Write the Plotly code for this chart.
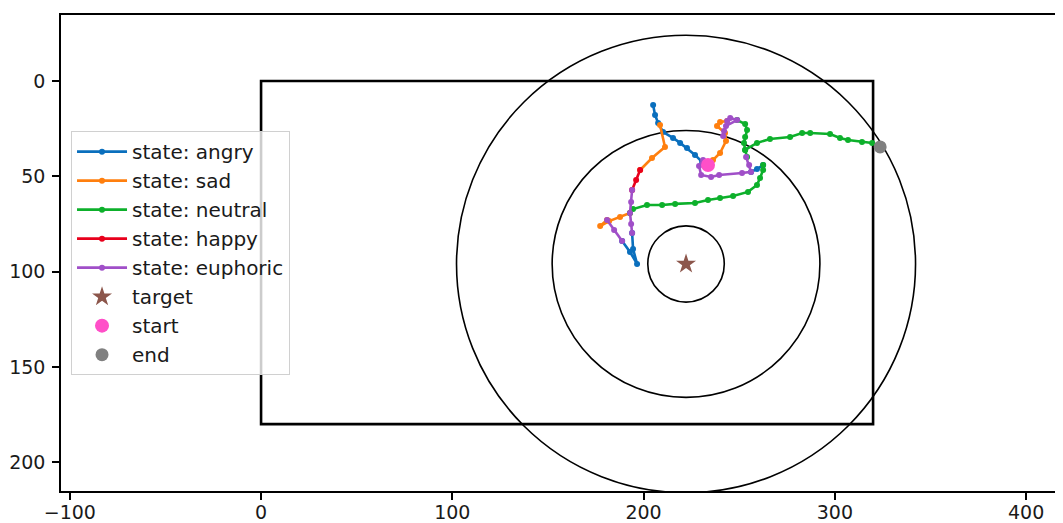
import plotly.graph_objects as go

# ---------------- data ----------------
# trajectory pieces per state (x lists, y lists)
angry_x = [[233.7, 230.6, 226.9, 222.7, 219.1, 215.4, 210.2, 207.6, 206.0, 205.0],
           [194.0, 194.5, 196.6, 192.9, 188.8],
           [262.5, 259.3, 256.2]]
angry_y = [[44.1, 42.5, 38.8, 35.2, 32.5, 29.9, 26.8, 22.0, 17.8, 12.6],
           [79.7, 88.1, 96.0, 89.7, 83.9],
           [44.1, 46.2, 47.7]]

sad_x = [[208.6, 211.2, 204.4, 198.2],
         [180.9, 177.3, 182.0, 187.7, 192.9],
         [233.7, 236.3, 240.0, 243.1, 242.6, 238.4, 240.0, 243.7]]
sad_y = [[23.1, 34.6, 40.4, 46.7],
         [72.9, 76.1, 73.5, 71.4, 69.3],
         [44.1, 41.4, 37.8, 31.5, 27.3, 23.6, 21.5, 21.0]]

neutral_x = [[192.9, 194.5, 201.8, 209.7, 216.5, 226.9, 233.7, 240.0, 246.8, 254.6, 259.3, 260.9, 262.5, 262.5],
             [248.9, 253.1, 254.1, 253.1, 252.5, 253.1, 254.1],
             [253.1, 259.3, 266.1, 276.6, 282.9, 287.1, 297.5, 302.7, 306.9, 314.2, 319.5, 323.7]]
neutral_y = [[69.3, 67.2, 65.1, 65.1, 64.5, 64.0, 62.4, 61.4, 60.3, 58.2, 54.6, 50.9, 46.7, 44.1],
             [20.5, 22.6, 25.7, 29.4, 32.5, 36.2, 39.9],
             [36.2, 32.5, 30.4, 29.4, 27.3, 27.3, 27.8, 29.9, 31.0, 32.0, 32.5, 34.6]]

happy_x = [[198.2, 196.1, 194.0]]
happy_y = [[46.7, 51.9, 57.2]]

euphoric_x = [[194.0, 193.5, 192.9, 193.5, 194.0],
              [188.8, 184.6, 180.9],
              [253.6, 255.2, 256.2, 251.5, 239.5, 235.3, 230.1, 229.0, 231.1],
              [243.7, 245.3, 248.9, 243.1, 242.1, 241.6]]
euphoric_y = [[57.2, 63.5, 69.3, 75.0, 79.7],
              [83.9, 78.2, 72.9],
              [39.9, 44.1, 47.7, 48.3, 49.3, 50.4, 49.3, 44.6, 41.4],
              [21.0, 19.4, 20.5, 23.6, 26.2, 28.9]]

target_xy = (222.2, 96.0)
start_xy = (233.7, 44.1)
end_xy = (323.7, 34.6)
ring_radii = [20, 70, 120]
room = (0, 320, 0, 180)   # x0, x1, y0, y1

x_ticks = [-100, 0, 100, 200, 300, 400]
y_ticks = [0, 50, 100, 150, 200]

states = [
    ("state: angry", angry_x, angry_y, "#0a6fbd"),
    ("state: sad", sad_x, sad_y, "#ff7f0e"),
    ("state: neutral", neutral_x, neutral_y, "#0db02b"),
    ("state: happy", happy_x, happy_y, "#e8001c"),
    ("state: euphoric", euphoric_x, euphoric_y, "#a04fc8"),
]

FONT = "DejaVu Sans"

fig = go.Figure()

for name, xs, ys, col in states:
    X, Y = [], []
    for sx, sy in zip(xs, ys):
        if X:
            X.append(None); Y.append(None)
        X += sx; Y += sy
    fig.add_trace(go.Scatter(x=X, y=Y, mode="lines+markers", name=name,
                             line=dict(color=col, width=2.6),
                             marker=dict(color=col, size=6),
                             connectgaps=False))

fig.add_trace(go.Scatter(x=[target_xy[0]], y=[target_xy[1]], mode="markers", name="target",
                         marker=dict(symbol="star", color="#8c564b", size=15, line=dict(width=0))))
fig.add_trace(go.Scatter(x=[start_xy[0]], y=[start_xy[1]], mode="markers", name="start",
                         marker=dict(symbol="circle", color="#ff4fc8", size=14, line=dict(width=0))))
fig.add_trace(go.Scatter(x=[end_xy[0]], y=[end_xy[1]], mode="markers", name="end",
                         marker=dict(symbol="circle", color="#808080", size=13, line=dict(width=0))))

shapes = [dict(type="rect", xref="x", yref="y", x0=room[0], x1=room[1], y0=room[2], y1=room[3],
               line=dict(color="black", width=2.6), layer="below")]
for r in ring_radii:
    shapes.append(dict(type="circle", xref="x", yref="y",
                       x0=target_xy[0] - r, x1=target_xy[0] + r,
                       y0=target_xy[1] - r, y1=target_xy[1] + r,
                       line=dict(color="black", width=1.6), layer="below"))

axis_common = dict(showgrid=False, zeroline=False, showline=True, linecolor="black", linewidth=1.5,
                   mirror=True, ticks="outside", ticklen=7, tickwidth=1.5, tickcolor="black",
                   tickfont=dict(family=FONT, size=19, color="#1a1a1a"), automargin=False)

# page body has an 8px margin: figure is 1055x515 so it fills the 1063x523 window
fig.update_layout(
    width=1055, height=515,
    margin=dict(l=53, r=0, t=7, b=32),
    paper_bgcolor="white", plot_bgcolor="white",
    shapes=shapes,
    showlegend=True,
    legend=dict(x=0.01, y=0.756, xanchor="left", yanchor="top",
                bgcolor="rgba(255,255,255,0.8)", bordercolor="#d0d0d0", borderwidth=1,
                font=dict(family=FONT, size=20, color="#1a1a1a"), itemwidth=50),
    xaxis=dict(range=[-104.6, 419.3], tickvals=x_ticks, ticklabelstandoff=-4, **axis_common),
    yaxis=dict(range=[215.1, -34.6], tickvals=y_ticks, ticklabelstandoff=3, **axis_common),
)

fig.write_html("out.html")
